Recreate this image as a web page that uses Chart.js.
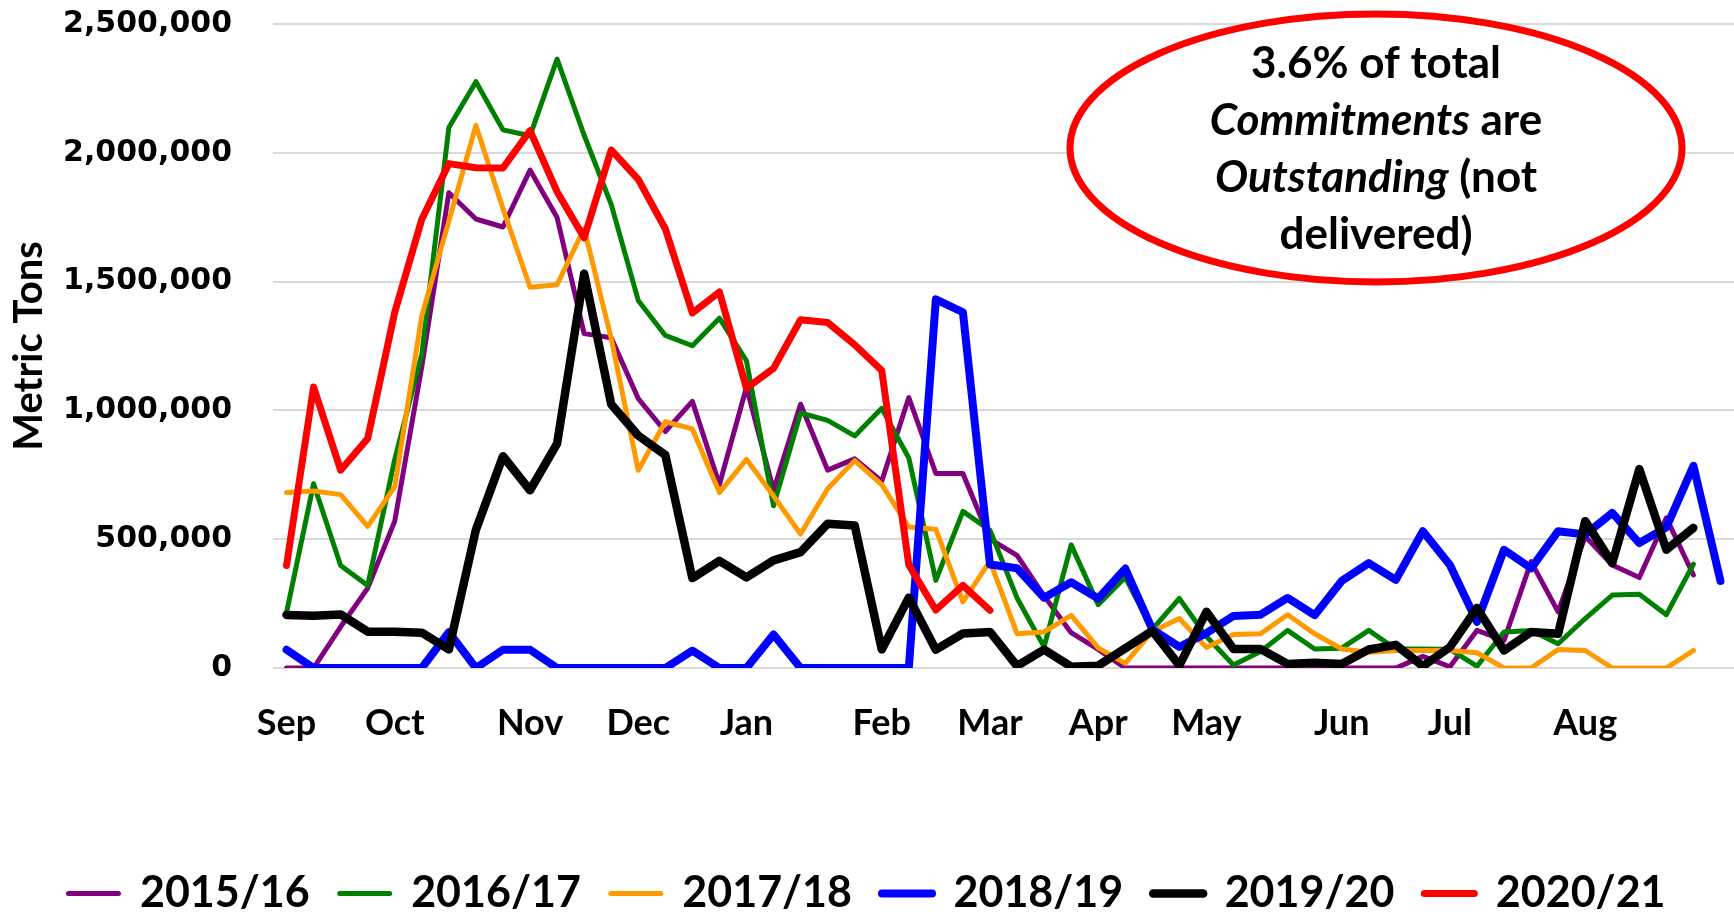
<!DOCTYPE html>
<html>
<head>
<meta charset="utf-8">
<title>Outstanding commitments</title>
<script src="https://cdn.jsdelivr.net/npm/chart.js@4.4.1/dist/chart.umd.min.js"></script>
<style>
    html, body { margin: 0; padding: 0; background: #fff; }
    #wrap { width: 1734px; height: 916px; position: relative; }
</style>
</head>
<body>
<div id="wrap"><canvas id="chart"></canvas></div>
<script>
// weekly categories, only month starts are labelled
const weekLabels = [
    'Sep', '', '', '',
    'Oct', '', '', '', '',
    'Nov', '', '', '',
    'Dec', '', '', '',
    'Jan', '', '', '', '',
    'Feb', '', '', '',
    'Mar', '', '', '',
    'Apr', '', '', '',
    'May', '', '', '', '',
    'Jun', '', '', '',
    'Jul', '', '', '', '',
    'Aug', '', '', '', '', ''
];

// metric tons per week
const y2015 = [0, 0, 160000, 310000, 570000, 1170000, 1845000, 1743000, 1712000, 1933000, 1749000,
    1298000, 1282000, 1046000, 918000, 1035000, 712000, 1090000, 690000, 1024000, 768000, 812000,
    725000, 1050000, 755000, 755000, 500000, 437000, 280000, 137000, 72000,
    0, 0, 0, 0, 0, 0, 0, 0, 0, 0, 0,
    45000, 5000, 146000, 107000, 413000, 218000, 511000, 400000, 351000, 583000, 361000];

const y2016 = [215000, 715000, 398000, 320000, 810000, 1218000, 2098000, 2276000, 2089000, 2066000, 2364000,
    2068000, 1800000, 1427000, 1291000, 1251000, 1358000, 1192000, 630000, 990000, 961000, 901000,
    1008000, 815000, 340000, 608000, 535000, 272000, 82000, 478000, 246000,
    352000, 150000, 270000, 122000, 12000, 64000, 146000, 74000, 77000, 146000, 74000,
    74000, 72000, 7000, 140000, 146000, 94000, 192000, 283000, 286000, 207000, 403000];

const y2017 = [681000, 687000, 673000, 550000, 704000, 1367000, 1735000, 2106000, 1784000, 1478000, 1488000,
    1706000, 1280000, 768000, 956000, 928000, 681000, 810000, 668000, 520000, 696000, 805000,
    712000, 547000, 539000, 257000, 415000, 133000, 140000, 204000, 78000,
    18000, 142000, 192000, 80000, 130000, 133000, 207000, 133000, 74000, 61000, 68000,
    68000, 68000, 59000, 0, 0, 72000, 68000, 0, 0, 0, 68000];

const y2018 = [71000, 0, 0, 0, 0, 0, 139000, 0, 71000, 71000, 0,
    0, 0, 0, 0, 67000, 0, 0, 130000, 0, 0, 0,
    0, 0, 1431000, 1381000, 402000, 387000, 273000, 333000, 270000,
    386000, 150000, 82000, 135000, 202000, 207000, 272000, 205000, 338000, 407000, 342000,
    531000, 400000, 179000, 459000, 387000, 531000, 518000, 602000, 485000, 546000, 785000, 338000];

const y2019 = [206000, 203000, 208000, 141000, 141000, 137000, 72000, 537000, 822000, 690000, 871000,
    1531000, 1024000, 902000, 827000, 349000, 416000, 352000, 418000, 450000, 560000, 553000,
    72000, 273000, 71000, 134000, 140000, 8000, 71000, 5000, 9000,
    76000, 144000, 10000, 218000, 74000, 74000, 16000, 20000, 16000, 72000, 90000,
    7000, 81000, 233000, 68000, 140000, 133000, 570000, 407000, 772000, 459000, 544000];

const y2020 = [398000, 1091000, 768000, 891000, 1381000, 1742000, 1958000, 1942000, 1941000, 2086000, 1849000,
    1670000, 2011000, 1897000, 1705000, 1378000, 1460000, 1086000, 1163000, 1352000, 1341000, 1255000,
    1155000, 400000, 225000, 321000, 224000];

const seriesNames = ['2015/16', '2016/17', '2017/18', '2018/19', '2019/20', '2020/21'];
const seriesColors = ['#800080', '#008000', '#ff9900', '#0000ff', '#000000', '#ff0000'];
const seriesWidths = [5, 5, 5, 8, 8.5, 7];
const seriesValues = [y2015, y2016, y2017, y2018, y2019, y2020];

const calloutLines = [
    [{ text: '3.6% of total', italic: false }],
    [{ text: 'Commitments', italic: true }, { text: ' are', italic: false }],
    [{ text: 'Outstanding', italic: true }, { text: ' (not', italic: false }],
    [{ text: 'delivered)', italic: false }]
];

// red ellipse with the note, drawn on top of the plot
const calloutPlugin = {
    id: 'callout',
    afterDatasetsDraw(chart) {
        const ctx = chart.ctx;
        const cx = 1376, cy = 148;
        ctx.save();
        ctx.beginPath();
        ctx.ellipse(cx, cy, 306, 134, 0, 0, Math.PI * 2);
        ctx.fillStyle = '#ffffff';
        ctx.fill();
        ctx.lineWidth = 7;
        ctx.strokeStyle = '#ff0000';
        ctx.stroke();

        ctx.fillStyle = '#000000';
        ctx.textBaseline = 'middle';
        ctx.textAlign = 'left';
        calloutLines.forEach((parts, k) => {
            const fonts = parts.map(p => (p.italic ? 'italic ' : '') + 'bold 44px Lato');
            let total = 0;
            const widths = parts.map((p, j) => {
                ctx.font = fonts[j];
                const w = ctx.measureText(p.text).width;
                total += w;
                return w;
            });
            let x = cx - total / 2;
            const y = 64 + k * 57;
            parts.forEach((p, j) => {
                ctx.font = fonts[j];
                ctx.fillText(p.text, x, y);
                x += widths[j];
            });
        });
        ctx.restore();
    }
};

const datasets = seriesValues.map((values, i) => ({
    label: seriesNames[i],
    data: values,
    borderColor: seriesColors[i],
    backgroundColor: seriesColors[i],
    borderWidth: seriesWidths[i],
    pointRadius: 0,
    pointHoverRadius: 0,
    pointStyle: 'line',
    pointBorderWidth: seriesWidths[i],
    pointBorderColor: seriesColors[i],
    borderJoinStyle: 'round',
    borderCapStyle: 'round',
    tension: 0,
    fill: false,
    // later seasons are drawn on top
    order: seriesValues.length - i
}));

new Chart(document.getElementById('chart'), {
    type: 'line',
    data: {
        labels: weekLabels,
        datasets: datasets
    },
    options: {
        responsive: true,
        maintainAspectRatio: false,
        animation: false,
        layout: {
            padding: { top: 24, right: 0, bottom: -9, left: 0 }
        },
        plugins: {
            tooltip: { enabled: false },
            legend: {
                position: 'bottom',
                labels: {
                    usePointStyle: true,
                    pointStyleWidth: 50,
                    padding: 30,
                    color: '#000000',
                    font: { family: 'Lato', size: 43, weight: 'bold' },
                    generateLabels(chart) {
                        const items = Chart.defaults.plugins.legend.labels.generateLabels(chart);
                        items.forEach(item => {
                            const ds = chart.data.datasets[item.datasetIndex];
                            item.lineWidth = ds.borderWidth;
                            item.strokeStyle = ds.borderColor;
                            item.lineCap = 'round';
                        });
                        return items.sort((a, b) => a.datasetIndex - b.datasetIndex);
                    }
                }
            }
        },
        scales: {
            x: {
                offset: true,
                // invisible tick marks keep the labels low without extra side padding
                grid: {
                    display: true,
                    drawOnChartArea: false,
                    drawTicks: true,
                    tickLength: 32,
                    color: 'rgba(0,0,0,0)',
                    tickColor: 'rgba(0,0,0,0)'
                },
                border: { display: false },
                ticks: {
                    autoSkip: false,
                    maxRotation: 0,
                    minRotation: 0,
                    padding: 2,
                    color: '#000000',
                    font: { family: 'Lato', size: 36, weight: 'bold' }
                },
                afterFit(scale) {
                    scale.height = 174;
                }
            },
            y: {
                min: 0,
                max: 2500000,
                grid: {
                    color: '#d9d9d9',
                    lineWidth: 2,
                    drawTicks: true,
                    tickLength: 35,
                    tickColor: 'rgba(0,0,0,0)'
                },
                border: { display: false },
                ticks: {
                    stepSize: 500000,
                    padding: 6,
                    color: '#000000',
                    font: { family: 'DejaVu Sans', size: 30, weight: 'bold' },
                    callback: v => v.toLocaleString('en-US')
                },
                title: {
                    display: true,
                    text: 'Metric Tons',
                    color: '#000000',
                    padding: { top: 5, bottom: 0 },
                    font: { family: 'Lato', size: 40, weight: 'bold' }
                },
                afterFit(scale) {
                    scale.width = 273;
                }
            }
        }
    },
    plugins: [calloutPlugin]
});
</script>
</body>
</html>
